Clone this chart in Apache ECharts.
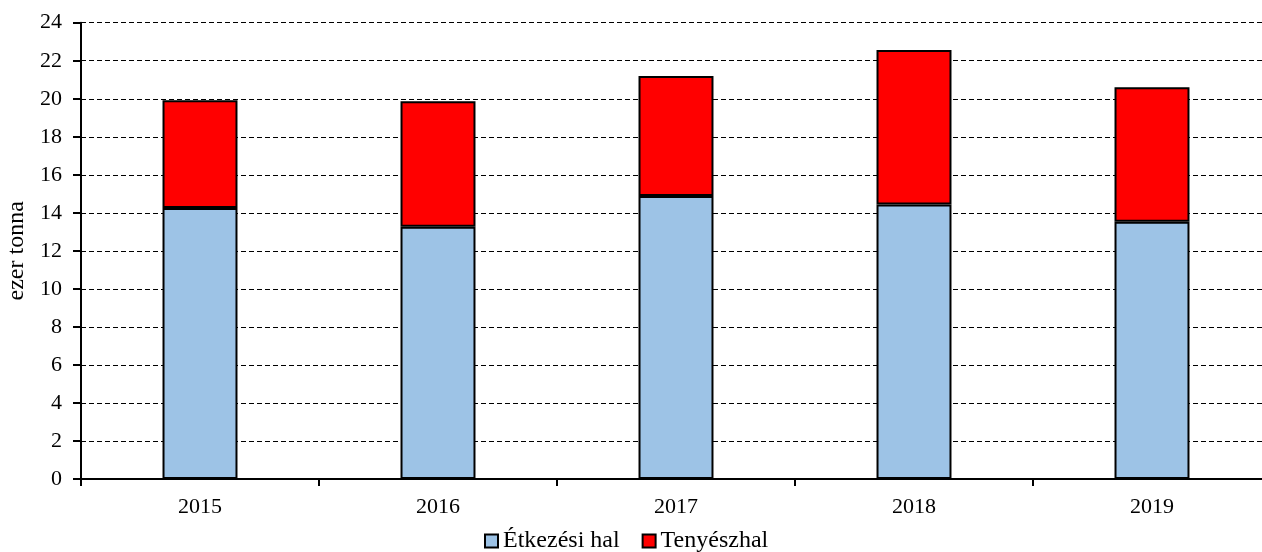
<!DOCTYPE html>
<html>
<head>
<meta charset="utf-8">
<script src="https://cdn.jsdelivr.net/npm/echarts@6/dist/echarts.min.js"></script>
<style>html,body{margin:0;padding:0;background:#fff}#c{width:1262px;height:552px}</style>
</head>
<body>
<div id="c"></div>
<script>
const categories = ['2015', '2016', '2017', '2018', '2019'];
const etkezesi = [14.25, 13.27, 14.88, 14.44, 13.53];
const tenyesz = [5.67, 6.6, 6.32, 8.12, 7.08];
const seriesNames = ['Étkezési hal', 'Tenyészhal'];
const yTicks = { min: 0, max: 24, interval: 2 };

const font = "'Liberation Serif', 'Times New Roman', serif";
const chart = echarts.init(document.getElementById('c'));
chart.setOption({
  animation: false,
  grid: { left: 81, right: -9, top: 22.7, bottom: 73, containLabel: false, outerBoundsMode: 'none' },
  legend: {
    top: 524, left: 479, icon: 'rect', itemWidth: 13, itemHeight: 13, itemGap: 22,
    textStyle: { fontFamily: font, fontSize: 24, color: '#000' },
    data: seriesNames
  },
  xAxis: {
    type: 'category', data: categories,
    axisLine: { lineStyle: { color: '#000', width: 2 } },
    axisTick: { show: true, length: 7, lineStyle: { color: '#000', width: 2 } },
    axisLabel: { fontFamily: font, fontSize: 22, color: '#000', margin: 17 }
  },
  yAxis: {
    type: 'value', min: yTicks.min, max: yTicks.max, interval: yTicks.interval,
    name: 'ezer tonna', nameLocation: 'middle', nameGap: 51, nameRotate: 90,
    nameTextStyle: { fontFamily: font, fontSize: 24, color: '#000' },
    axisLine: { show: true, lineStyle: { color: '#000', width: 2 } },
    axisTick: { show: true, length: 8, lineStyle: { color: '#000', width: 2 } },
    axisLabel: { fontFamily: font, fontSize: 22, color: '#000', margin: 19 },
    splitLine: { show: true, lineStyle: { color: '#000', width: 1, type: [5, 3] } }
  },
  series: [
    { name: seriesNames[0], type: 'bar', stack: 'a', data: etkezesi, barWidth: '31.5%',
      itemStyle: { color: '#9DC3E6', borderColor: '#000', borderWidth: 2 } },
    { name: seriesNames[1], type: 'bar', stack: 'a', data: tenyesz, barWidth: '31.5%',
      itemStyle: { color: '#FF0000', borderColor: '#000', borderWidth: 2 } }
  ]
});
</script>
</body>
</html>
